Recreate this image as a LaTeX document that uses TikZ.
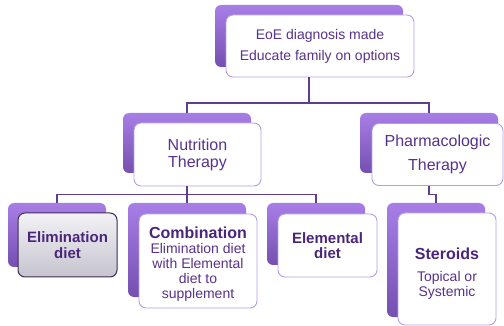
\documentclass[tikz,border=0pt]{standalone}
\usepackage{fontspec}
\setmainfont{Liberation Sans}
\usetikzlibrary{calc}
\definecolor{txt}{RGB}{88,50,140}
\definecolor{txtb}{RGB}{74,38,122}
\definecolor{ln}{RGB}{96,62,142}
\definecolor{bk1}{RGB}{168,126,230}
\definecolor{bk2}{RGB}{116,80,176}
\definecolor{fb}{RGB}{182,156,228}
\definecolor{gr1}{RGB}{242,242,246}
\definecolor{gr2}{RGB}{198,196,206}
\definecolor{grb}{RGB}{62,42,84}
\begin{document}
\begin{tikzpicture}[x=1pt,y=-1pt,
  backbox/.style={rounded corners=6pt, top color=bk1, bottom color=bk2, draw=none, inner sep=0pt},
  frontbox/.style={rounded corners=7pt, fill=white, draw=fb, line width=0.9pt, inner sep=0pt, align=center, text=txt},
  graybox/.style={rounded corners=7pt, top color=gr1, bottom color=gr2, draw=grb, line width=1pt, inner sep=0pt, align=center, text=txtb},
  conn/.style={draw=ln, line width=1.1pt}]
\useasboundingbox (0,0) rectangle (504,326);

% back boxes
\node[backbox, minimum width=188pt, minimum height=62pt] (topback) at (309,36) {};
\node[backbox, minimum width=128pt, minimum height=60pt] (nutback) at (187,143) {};
\node[backbox, minimum width=138pt, minimum height=60pt] (phback) at (429,143) {};
\node[backbox, minimum width=98pt, minimum height=64pt] (elimback) at (57,235) {};
\node[backbox, minimum width=118pt, minimum height=94pt] (combback) at (187,250) {};
\node[backbox, minimum width=98pt, minimum height=62pt] (elemback) at (316,234) {};
\node[backbox, minimum width=98pt, minimum height=114pt] (sterback) at (436,260) {};

% front boxes
\node[frontbox, minimum width=188pt, minimum height=62pt, font=\fontsize{14}{21}\selectfont] (top) at (320,46)
  {EoE diagnosis made\\Educate family on options};
\node[frontbox, minimum width=127pt, minimum height=63pt, font=\fontsize{16}{17}\selectfont] (nut) at (197.5,154.5)
  {Nutrition\\Therapy};
\node[frontbox, minimum width=131pt, minimum height=62pt, font=\fontsize{16}{24}\selectfont] (ph) at (437.5,154.5)
  {Pharmacologic\\Therapy};
\node[graybox, minimum width=99pt, minimum height=64pt, font=\bfseries\fontsize{15}{16}\selectfont] (elim) at (67.5,245)
  {Elimination\\diet};
\node[frontbox, minimum width=118pt, minimum height=94pt, font=\fontsize{14}{15}\selectfont] (comb) at (198,261)
  {\rule{0pt}{18pt}\textcolor{txtb}{\bfseries\fontsize{16}{15}\selectfont Combination}\\Elimination diet\\with Elemental\\diet to\\supplement};
\node[frontbox, minimum width=99pt, minimum height=63pt, font=\bfseries\fontsize{15}{15}\selectfont, text=txtb] (elem) at (327.5,245.5)
  {Elemental\\diet};
\node[frontbox, minimum width=98pt, minimum height=112pt, font=\fontsize{14}{15}\selectfont] (ster) at (447,269)
  {\rule{0pt}{20pt}\textcolor{txtb}{\bfseries\fontsize{16}{16}\selectfont Steroids}\\[7pt]Topical or\\Systemic};

% connectors
\coordinate (j1) at (309,103);
\coordinate (j2) at (187,194.5);
\draw[conn] (topback.south |- top.south) -- (j1);
\draw[conn] (nutback.north) |- (j1) -| (phback.north);
\draw[conn] (nutback.south |- nut.south) -- (combback.north);
\draw[conn] (elimback.north) |- (j2) -| (elemback.north);
\draw[conn] (phback.south |- ph.south) -- ++(0,9) -| (sterback.north);
\end{tikzpicture}
\end{document}
